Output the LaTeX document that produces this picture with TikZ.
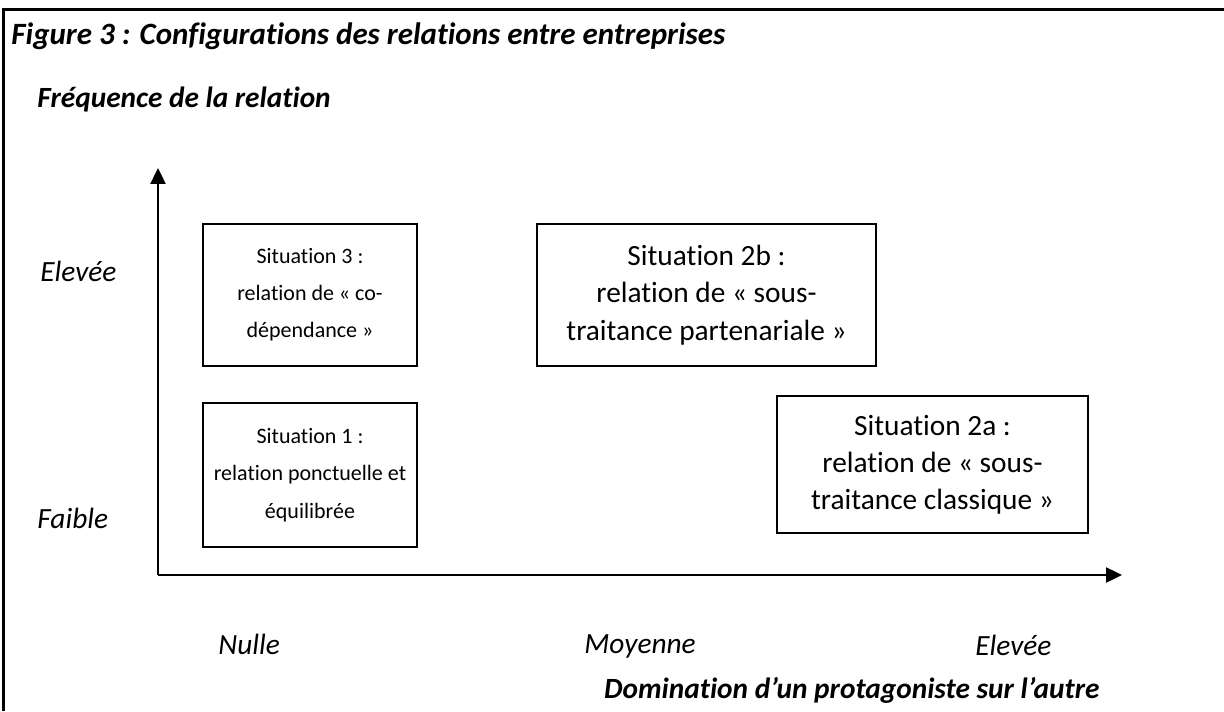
\documentclass[tikz,border=0pt]{standalone}
\usepackage{fontspec}
\setmainfont{Carlito}[Ligatures={NoCommon,TeX}]
\usetikzlibrary{arrows.meta}

\tikzstyle{sit}=[draw,rectangle,line width=0.75pt,align=center,
                 font=\fontsize{14.67}{18.6}\selectfont,inner sep=0pt]
\tikzstyle{sitsmall}=[sit,font=\fontsize{11}{18.6}\selectfont]
\tikzstyle{lvl}=[anchor=west,inner sep=0pt,font=\fontsize{14.67}{17}\selectfont\itshape]
\tikzstyle{axtitle}=[inner sep=0pt,font=\fontsize{14.67}{17}\selectfont\bfseries\itshape]
\tikzstyle{axis}=[line width=1.2pt,-{Triangle[length=8pt,width=7.5pt]}]

\begin{document}
\begin{tikzpicture}[x=0.5pt,y=-0.5pt]
  \useasboundingbox (0,0) rectangle (1224,711);
  % frame (only top and left edges show)
  \draw[line width=1.5pt] (3,711) -- (3,10) -- (1224,10);

  % title
  \node[axtitle,anchor=base west,font=\fontsize{15.5}{17}\selectfont\bfseries\itshape] (title) at (11,45)
    {Figure 3 : Configurations des relations entre entreprises};

  % axes
  \coordinate (orig) at (158,575);
  \coordinate (ytip) at (158,168);
  \coordinate (xtip) at (1122,575);
  \draw[axis] (orig) -- (ytip);
  \draw[axis] (orig) -- (xtip);

  \node[axtitle,anchor=west] (ytitle) at (37,100) {Fréquence de la relation};
  \node[axtitle,anchor=east] (xtitle) at (1100,690) {Domination d’un protagoniste sur l’autre};

  % levels on the y axis
  \node[lvl] (yhigh) at (40,271) {Elevée};
  \node[lvl] (ylow) at (37,518) {Faible};

  % levels on the x axis
  \node[lvl] (xnull) at (218,644) {Nulle};
  \node[lvl] (xmid) at (584,646) {Moyenne};
  \node[lvl] (xhigh) at (975,645) {Elevée};

  % situations
  \node[sitsmall,minimum width=107pt,minimum height=71pt] (s3) at (310,295)
    {Situation 3 :\\relation de « co-\\dépendance »};
  \node[sit,minimum width=169.5pt,minimum height=71pt] (s2b) at (706.5,295)
    {Situation 2b :\\relation de « sous-\\traitance partenariale »};
  \node[sitsmall,minimum width=107pt,minimum height=72pt] (s1) at (310,475)
    {Situation 1 :\\relation ponctuelle et\\équilibrée};
  \node[sit,minimum width=155.5pt,minimum height=68.5pt] (s2a) at (932.5,464.5)
    {Situation 2a :\\relation de « sous-\\traitance classique »};
\end{tikzpicture}
\end{document}
